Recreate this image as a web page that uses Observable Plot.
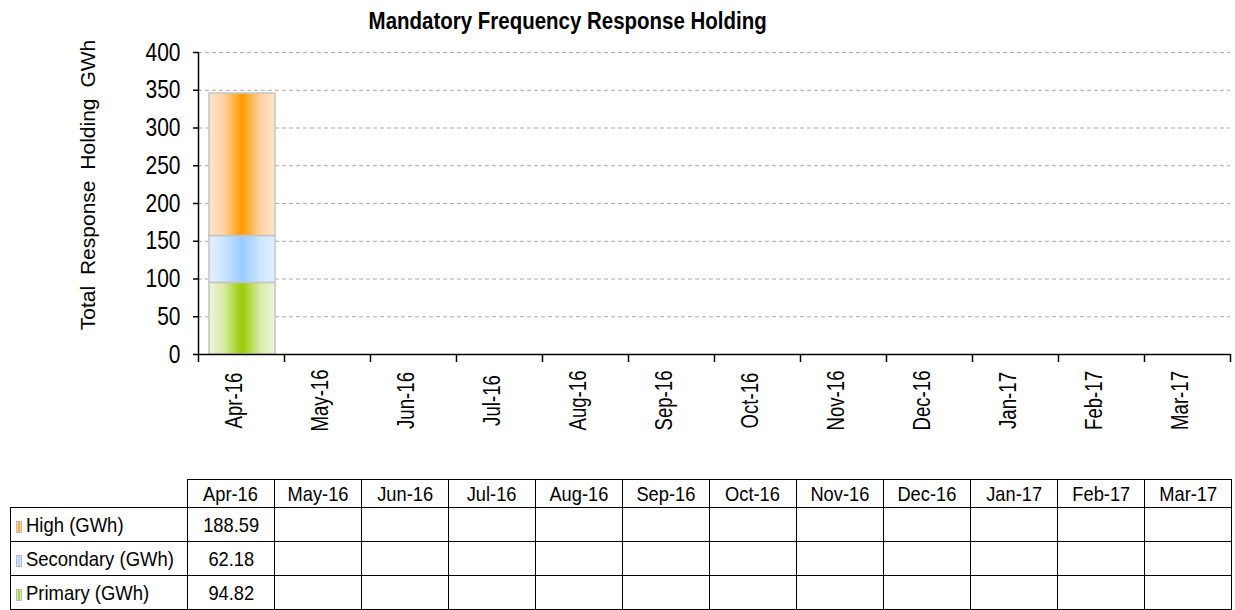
<!DOCTYPE html>
<html><head><meta charset="utf-8">
<script src="https://cdn.jsdelivr.net/npm/d3@7"></script>
<script src="https://cdn.jsdelivr.net/npm/@observablehq/plot@0.6"></script>
<style>
body{margin:0;background:#fff;}
#wrap{position:relative;width:1235px;height:610px;overflow:hidden;font-family:"Liberation Sans",Arial,sans-serif;color:#000}
#chart{position:absolute;left:0;top:0}
#title{position:absolute;left:0;top:10px;width:1136px;text-align:center;font-weight:bold;font-size:23px;line-height:23px}
#title span{display:inline-block;transform:scaleX(0.89);transform-origin:center center}
#ylab{position:absolute;left:-62px;top:173px;width:300px;height:24px;line-height:24px;text-align:center;font-size:21px;word-spacing:5px;transform:rotate(-90deg);transform-origin:center center;white-space:nowrap}
#tbl{position:absolute;left:10px;top:479px;width:1221px;border-collapse:collapse;table-layout:fixed;font-size:21px}
#tbl td{border:1px solid #000;padding:0;text-align:center;white-space:nowrap;overflow:hidden}
#tbl tr.h td{height:27px}
#tbl tr.r td{height:33px}
#tbl td.blank{border:none}
#tbl td.lab{text-align:left;padding-left:5px}
#tbl td span.n{display:inline-block;transform:scaleX(0.87);transform-origin:center center}
#tbl td.lab span.n{transform:scaleX(0.88);transform-origin:left center}
.ic{display:inline-block;width:6px;height:12px;margin-right:4px;vertical-align:-1px;border:1px solid #bbb;box-sizing:border-box}
</style></head>
<body>
<div id="wrap">
  <div id="chart"></div>
  <div id="title"><span>Mandatory Frequency Response Holding</span></div>
  <div id="ylab">Total Response Holding GWh</div>
  <table id="tbl"></table>
</div>
<script>
// ---- data ----
const months = ["Apr-16","May-16","Jun-16","Jul-16","Aug-16","Sep-16","Oct-16","Nov-16","Dec-16","Jan-17","Feb-17","Mar-17"];
const seriesNames = ["Primary (GWh)","Secondary (GWh)","High (GWh)"];
const primary   = [94.82, null, null, null, null, null, null, null, null, null, null, null];
const secondary = [62.18, null, null, null, null, null, null, null, null, null, null, null];
const high      = [188.59, null, null, null, null, null, null, null, null, null, null, null];
const yTicks = [0, 50, 100, 150, 200, 250, 300, 350, 400];
const tableOrder = ["High (GWh)","Secondary (GWh)","Primary (GWh)"];

const seriesValues = {"Primary (GWh)": primary, "Secondary (GWh)": secondary, "High (GWh)": high};
const gradIds = {"Primary (GWh)": "gG", "Secondary (GWh)": "gB", "High (GWh)": "gO"};
const gradStops = {
  gO: ["#ffe6cc","#ffd3a3","#ff9900","#ffd3a3","#ffe6cc"],
  gB: ["#e2f0ff","#cde5ff","#99ccff","#cde5ff","#e2f0ff"],
  gG: ["#eef6dc","#d8eba8","#99cc00","#d8eba8","#eef6dc"]
};

const rows = [];
seriesNames.forEach(s => {
  seriesValues[s].forEach((v, i) => {
    if (v != null) rows.push({i, month: months[i], series: s, value: v});
  });
});

const svg = Plot.plot({
  width: 1235,
  height: 470,
  marginLeft: 198,
  marginRight: 5,
  marginTop: 52,
  marginBottom: 116,
  style: {fontFamily: '"Liberation Sans",Arial,sans-serif', fontSize: "25px", color: "#000", background: "transparent"},
  x: {type: "linear", domain: [0, months.length], axis: null},
  y: {domain: [0, 400], axis: null},
  color: {type: "ordinal", domain: seriesNames, range: seriesNames.map(s => `url(#${gradIds[s]})`)},
  marks: [
    Plot.gridY(yTicks.filter(d => d > 0), {stroke: "#ababab", strokeOpacity: 1, strokeWidth: 1, strokeDasharray: "4,3"}),
    Plot.rectY(rows, Plot.stackY({
      x1: "i", x2: d => d.i + 1, y: "value", fill: "series",
      stroke: "#c4c4c4", strokeWidth: 1.5, insetLeft: 11, insetRight: 9
    })),
    Plot.axisY(yTicks, {tickSize: 5, tickPadding: 13, fontSize: 25, tickFormat: d => String(d), stroke: "#000", strokeWidth: 1.5, label: null}),
    Plot.axisX(d3.range(months.length + 1), {tickSize: 8, tickFormat: () => "", stroke: "#000", strokeWidth: 1.5, label: null}),
    Plot.ruleX([0], {y1: 0, y2: 400, stroke: "#000", strokeWidth: 1.5}),
    Plot.ruleY([0], {x1: 0, x2: months.length, stroke: "#000", strokeWidth: 1.5}),
    Plot.text(months, {x: (d, i) => i + 0.5, frameAnchor: "bottom", dy: 46, rotate: -90, textAnchor: "middle", fontSize: 23, fill: "#000"})
  ]
});

// gradient definitions
const defs = d3.select(svg).insert("defs", ":first-child");
Object.entries(gradStops).forEach(([id, cols]) => {
  const g = defs.append("linearGradient").attr("id", id).attr("x1", "0").attr("x2", "1").attr("y1", "0").attr("y2", "0");
  const offs = [0, 0.22, 0.5, 0.78, 1];
  cols.forEach((c, k) => g.append("stop").attr("offset", offs[k]).attr("stop-color", c));
});
document.getElementById("chart").appendChild(svg);

// condense SVG labels (narrow-font look)
function narrow(sel, f) {
  sel.each(function() {
    const L = this.getComputedTextLength();
    if (L > 0) { this.setAttribute("textLength", L * f); this.setAttribute("lengthAdjust", "spacingAndGlyphs"); }
  });
}
narrow(d3.select(svg).selectAll('g[aria-label="y-axis tick label"] text'), 0.84);
narrow(d3.select(svg).selectAll('g[aria-label="text"] text'), 0.81);

// data table
const tbl = d3.select("#tbl");
const cg = tbl.append("colgroup");
cg.append("col").style("width", "177px");
months.forEach(() => cg.append("col").style("width", "87px"));
const hr = tbl.append("tr").attr("class", "h");
hr.append("td").attr("class", "blank");
months.forEach(m => hr.append("td").append("span").attr("class", "n").text(m));
tableOrder.forEach(s => {
  const tr = tbl.append("tr").attr("class", "r");
  const lab = tr.append("td").attr("class", "lab");
  const ic = lab.append("span").attr("class", "ic");
  const st = gradStops[gradIds[s]];
  ic.style("background", `linear-gradient(to right, ${st[0]}, ${st[2]}, ${st[4]})`);
  lab.append("span").attr("class", "n").text(s);
  seriesValues[s].forEach(v => tr.append("td").append("span").attr("class", "n").text(v == null ? "" : v.toFixed(2)));
});
</script>
</body></html>
